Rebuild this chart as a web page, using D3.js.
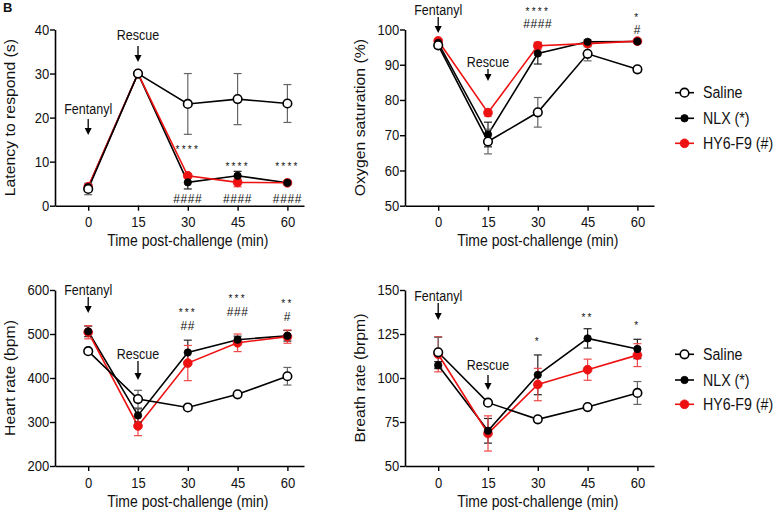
<!DOCTYPE html>
<html><head><meta charset="utf-8">
<script src="https://cdn.jsdelivr.net/npm/d3@7"></script>
<style>
body{margin:0;background:#fff}
svg{display:block}
text{font-family:"Liberation Sans",Arial,Helvetica,sans-serif;fill:#111}
</style>
</head><body>
<svg id="chart" width="777" height="514"></svg>
<script>
// ---------- data ----------
const times = [0, 15, 30, 45, 60];
const xTicks = [0, 15, 30, 45, 60];
const seriesNames = ["Saline", "NLX (*)", "HY6-F9 (#)"];

const latencySaline = [3.8, 30, 23.1, 24.2, 23.2];
const latencySalineErr = [1.3, 0, 6.9, 5.8, 4.3];
const latencyNLX = [4.2, 30, 5.3, 6.8, 5.2];
const latencyNLXErr = [0.6, 0, 1.5, 1.0, 0.4];
const latencyHY6 = [4.3, 30, 6.8, 5.3, 5.2];
const latencyHY6Err = [0.5, 0, 0.5, 1.0, 0.4];
const latencyTicks = [0, 10, 20, 30, 40];
const latencyStars = ["", "", "****", "****", "****"];
const latencyHash = ["", "", "####", "####", "####"];

const o2Saline = [95.5, 68.2, 76.5, 93.1, 88.7];
const o2SalineErr = [0.8, 3.5, 4.2, 2.0, 0.8];
const o2NLX = [96.2, 70.2, 93.2, 96.5, 96.6];
const o2NLXErr = [0.6, 3.5, 3.0, 0.5, 0.4];
const o2HY6 = [96.8, 76.4, 95.4, 96.0, 96.7];
const o2HY6Err = [0.5, 1.0, 1.0, 0.5, 0.4];
const o2Ticks = [50, 60, 70, 80, 90, 100];
const o2Stars = ["", "", "****", "", "*"];
const o2Hash = ["", "", "####", "", "#"];

const hrSaline = [461, 352, 333, 363, 404];
const hrSalineErr = [6, 20, 5, 5, 20];
const hrNLX = [506, 315, 458, 487, 496];
const hrNLXErr = [12, 15, 28, 8, 12];
const hrHY6 = [504, 291, 434, 480, 494];
const hrHY6Err = [15, 22, 40, 20, 15];
const hrTicks = [200, 300, 400, 500, 600];
const hrStars = ["", "", "***", "***", "**"];
const hrHash = ["", "", "##", "###", "#"];

const brSaline = [114.6, 86, 76.5, 83.5, 91.5];
const brSalineErr = [8.5, 1, 1, 1, 6.5];
const brNLX = [107.3, 70, 101.8, 122.5, 116.5];
const brNLXErr = [2, 7, 11.3, 5.5, 5.5];
const brHY6 = [113.5, 68.5, 96.3, 104.7, 113];
const brHY6Err = [10, 10, 9.2, 6, 6.5];
const brTicks = [50, 75, 100, 125, 150];
const brStars = ["", "", "*", "**", "*"];
const brHash = ["", "", "", "", ""];

// ---------- layout ----------
const SY = 1.13; // vertical text stretch seen in the reference
const svg = d3.select("#chart");
const font = '"Liberation Sans",Arial,Helvetica,sans-serif';

function txt(g, x, y, str, size, anchor, rot, sy) {
  const s = sy === undefined ? SY : sy;
  return g.append("text")
    .attr("transform", `translate(${x},${y}) scale(1,${s})${rot ? " rotate(-90)" : ""}`)
    .attr("text-anchor", anchor || "start").attr("font-size", size).text(str);
}

txt(svg, 3, 12, "B", 13, "start", false, 1).attr("font-weight", "bold");

const colors = ["#000", "#000", "#ee1111"];
const errColors = ["#666", "#222", "#f04848"];

const panels = [
  {left: 55, top: 29.5, bottom: 205.7, yDomain: [0, 40], ticks: latencyTicks,
   yTitle: "Latency to respond (s)", yTitleX: 14.5,
   series: [[latencySaline, latencySalineErr], [latencyNLX, latencyNLXErr], [latencyHY6, latencyHY6Err]],
   stars: latencyStars, hash: latencyHash,
   starY: [0, 0, 147, 164, 164], hashY: [0, 0, 199, 199, 199],
   tickOff: 21, xTitleY: 245.5,
   fent: {c: 109, a0: 119, a1: 135}, resc: {c: 35, a0: 46, a1: 62}},
  {left: 405, top: 29.5, bottom: 205.7, yDomain: [50, 100], ticks: o2Ticks,
   yTitle: "Oxygen saturation (%)", yTitleX: 364.5,
   series: [[o2Saline, o2SalineErr], [o2NLX, o2NLXErr], [o2HY6, o2HY6Err]],
   stars: o2Stars, hash: o2Hash,
   starY: [0, 0, 9, 0, 15], hashY: [0, 0, 24, 0, 30],
   tickOff: 21, xTitleY: 245.5,
   fent: {c: 10, a0: 17, a1: 33}, resc: {c: 62, a0: 69, a1: 81}},
  {left: 55, top: 290, bottom: 466, yDomain: [200, 600], ticks: hrTicks,
   yTitle: "Heart rate (bpm)", yTitleX: 14.5,
   series: [[hrSaline, hrSalineErr], [hrNLX, hrNLXErr], [hrHY6, hrHY6Err]],
   stars: hrStars, hash: hrHash,
   starY: [0, 0, 310, 296.5, 301.5], hashY: [0, 0, 326, 312, 317],
   tickOff: 21.8, xTitleY: 506.5,
   fent: {c: 290, a0: 297, a1: 313}, resc: {c: 354, a0: 361, a1: 380}},
  {left: 405, top: 290, bottom: 466, yDomain: [50, 150], ticks: brTicks,
   yTitle: "Breath rate (brpm)", yTitleX: 364.5,
   series: [[brSaline, brSalineErr], [brNLX, brNLXErr], [brHY6, brHY6Err]],
   stars: brStars, hash: brHash,
   starY: [0, 0, 339, 315, 323], hashY: [0, 0, 0, 0, 0],
   tickOff: 21.8, xTitleY: 506.5,
   fent: {c: 296, a0: 303, a1: 320}, resc: {c: 365, a0: 375, a1: 390}}
];

function arrow(g, x, y0, y1) {
  g.append("line").attr("x1", x).attr("x2", x).attr("y1", y0).attr("y2", y1 - 6)
    .attr("stroke", "#000").attr("stroke-width", 1.3);
  g.append("path").attr("d", `M${x - 3.5},${y1 - 7}L${x + 3.5},${y1 - 7}L${x},${y1}Z`).attr("fill", "#000");
}

panels.forEach(p => {
  const x = d3.scaleLinear().domain([-10, 65]).range([p.left, p.left + 75 * 3.32]);
  const y = d3.scaleLinear().domain(p.yDomain).range([p.bottom, p.top]);
  const g = svg.append("g");

  // axes
  const ya = g.append("g").attr("transform", `translate(${p.left},0)`)
    .call(d3.axisLeft(y).tickValues(p.ticks).tickSize(5).tickSizeOuter(0).tickPadding(0.8));
  const xa = g.append("g").attr("transform", `translate(0,${p.bottom})`)
    .call(d3.axisBottom(x).tickValues(xTicks).tickSize(5).tickSizeOuter(0));
  [ya, xa].forEach(a => {
    a.select(".domain").attr("stroke", "#000").attr("stroke-width", 1.6);
    a.selectAll(".tick line").attr("stroke", "#000").attr("stroke-width", 1.4);
    a.selectAll(".tick text").attr("font-size", 13).attr("font-family", font).attr("fill", "#111")
      .attr("transform", `scale(1,${SY})`);
  });
  xa.selectAll(".tick text").attr("y", p.tickOff / SY).attr("dy", 0);

  txt(g, x(30), p.xTitleY, "Time post-challenge (min)", 14, "middle");
  txt(g, p.yTitleX, (p.top + p.bottom) / 2, p.yTitle, 14, "middle", true);

  // lines: NLX, HY6, Saline
  const line = d3.line().x((d, i) => x(times[i])).y(d => y(d));
  [1, 2, 0].forEach(si => {
    g.append("path").datum(p.series[si][0]).attr("d", line)
      .attr("fill", "none").attr("stroke", colors[si]).attr("stroke-width", 1.6);
  });
  // error bars
  [1, 2, 0].forEach(si => {
    const [vals, errs] = p.series[si];
    vals.forEach((v, i) => {
      if (!errs[i]) return;
      const cx = x(times[i]), yt = y(v + errs[i]), yb = y(v - errs[i]);
      const eg = g.append("g").attr("stroke", errColors[si]).attr("stroke-width", 1.2);
      eg.append("line").attr("x1", cx).attr("x2", cx).attr("y1", yt).attr("y2", yb);
      eg.append("line").attr("x1", cx - 4).attr("x2", cx + 4).attr("y1", yt).attr("y2", yt);
      eg.append("line").attr("x1", cx - 4).attr("x2", cx + 4).attr("y1", yb).attr("y2", yb);
    });
  });
  // markers: HY6, NLX, Saline
  [2, 1, 0].forEach(si => {
    g.selectAll(null).data(p.series[si][0]).enter().append("circle")
      .attr("cx", (d, i) => x(times[i])).attr("cy", d => y(d))
      .attr("r", si === 0 ? 4.3 : (si === 2 ? 4.4 : 3.7))
      .attr("fill", si === 0 ? "#fff" : colors[si])
      .attr("stroke", colors[si]).attr("stroke-width", si === 0 ? 1.6 : 0.8);
  });
  // significance marks
  times.forEach((t, i) => {
    const cx = x(t);
    if (p.stars[i]) txt(g, cx, p.starY[i] + 0.575 * 10, p.stars[i], 10, "middle", false, 1)
      .attr("letter-spacing", 2.2);
    if (p.hash[i]) txt(g, cx, p.hashY[i] + 0.345 * 12, p.hash[i], 12, "middle", false, 1)
      .attr("letter-spacing", 0.6);
  });
  // annotations
  txt(g, x(0), p.fent.c + 0.36 * 12.5 * SY, "Fentanyl", 12.5, "middle");
  arrow(g, x(0), p.fent.a0, p.fent.a1);
  txt(g, x(15), p.resc.c + 0.36 * 12.5 * SY, "Rescue", 12.5, "middle");
  arrow(g, x(15), p.resc.a0, p.resc.a1);
});

// legends
[[92.7, 118.3, 143.3], [354.3, 380, 404.3]].forEach(rows => {
  const lg = svg.append("g");
  rows.forEach((ry, si) => {
    lg.append("line").attr("x1", 675).attr("x2", 694).attr("y1", ry).attr("y2", ry)
      .attr("stroke", colors[si]).attr("stroke-width", 1.6);
    lg.append("circle").attr("cx", 684.5).attr("cy", ry)
      .attr("r", si === 0 ? 4.3 : (si === 2 ? 4.4 : 3.7))
      .attr("fill", si === 0 ? "#fff" : colors[si]).attr("stroke", colors[si])
      .attr("stroke-width", si === 0 ? 1.6 : 0.8);
    txt(lg, 703, ry + 0.36 * 14.2 * SY, seriesNames[si], 14.2, "start");
  });
});
</script>
</body></html>
